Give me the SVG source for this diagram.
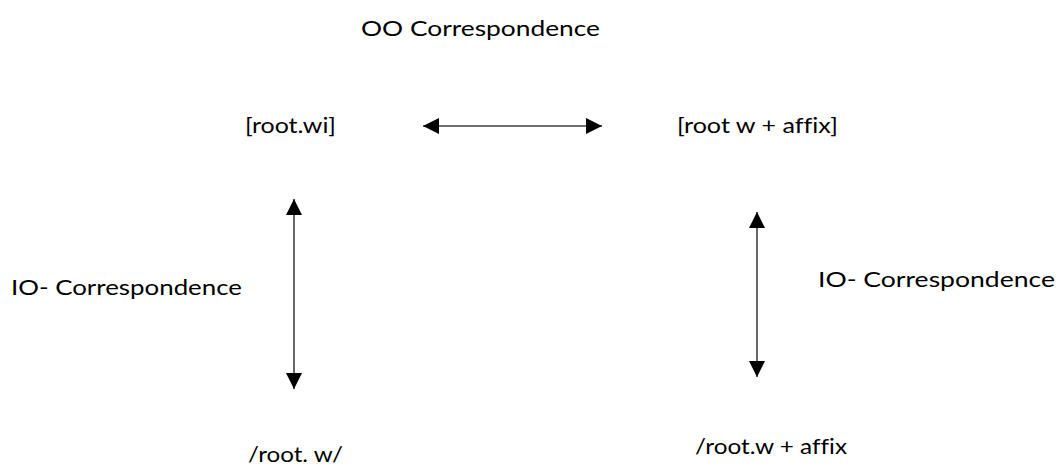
<svg xmlns="http://www.w3.org/2000/svg" width="1057" height="465" viewBox="0 0 1057 465">
<style>
.t{font-family:Lato,"Open Sans","Liberation Sans",sans-serif;font-size:21px;fill:#000;font-variant-ligatures:none}
.c{stroke:#404040;stroke-width:1.6;fill:none}
</style>
<defs>
<marker id="ah" viewBox="0 0 16 16" refX="16" refY="8" markerWidth="16" markerHeight="16" markerUnits="userSpaceOnUse" orient="auto-start-reverse">
<path d="M0,0 L16,8 L0,16 Z" fill="#000"/>
</marker>
</defs>
<rect width="1057" height="465" fill="#fff"/>
<g id="title"><text class="t" x="361" y="36" textLength="239" lengthAdjust="spacingAndGlyphs">OO Correspondence</text></g>
<g id="node-root-wi"><text class="t" x="245" y="133" textLength="91" lengthAdjust="spacingAndGlyphs">[root.wi]</text></g>
<g id="node-root-w-affix"><text class="t" x="677" y="133" textLength="161" lengthAdjust="spacingAndGlyphs">[root w + affix]</text></g>
<g id="label-io-left"><text class="t" x="11" y="295" textLength="231" lengthAdjust="spacingAndGlyphs">IO- Correspondence</text></g>
<g id="label-io-right"><text class="t" x="818" y="287" textLength="237" lengthAdjust="spacingAndGlyphs">IO- Correspondence</text></g>
<g id="node-root-w-under"><text class="t" x="248" y="462" textLength="95" lengthAdjust="spacingAndGlyphs">/root. w/</text></g>
<g id="node-root-w-affix-under"><text class="t" x="695" y="454" textLength="152" lengthAdjust="spacingAndGlyphs">/root.w + affix</text></g>
<g id="connectors">
<line class="c" x1="423" y1="126" x2="602" y2="126" marker-start="url(#ah)" marker-end="url(#ah)"/>
<line class="c" x1="294" y1="199" x2="294" y2="389" marker-start="url(#ah)" marker-end="url(#ah)"/>
<line class="c" x1="757" y1="212" x2="757" y2="377" marker-start="url(#ah)" marker-end="url(#ah)"/>
</g>
</svg>
